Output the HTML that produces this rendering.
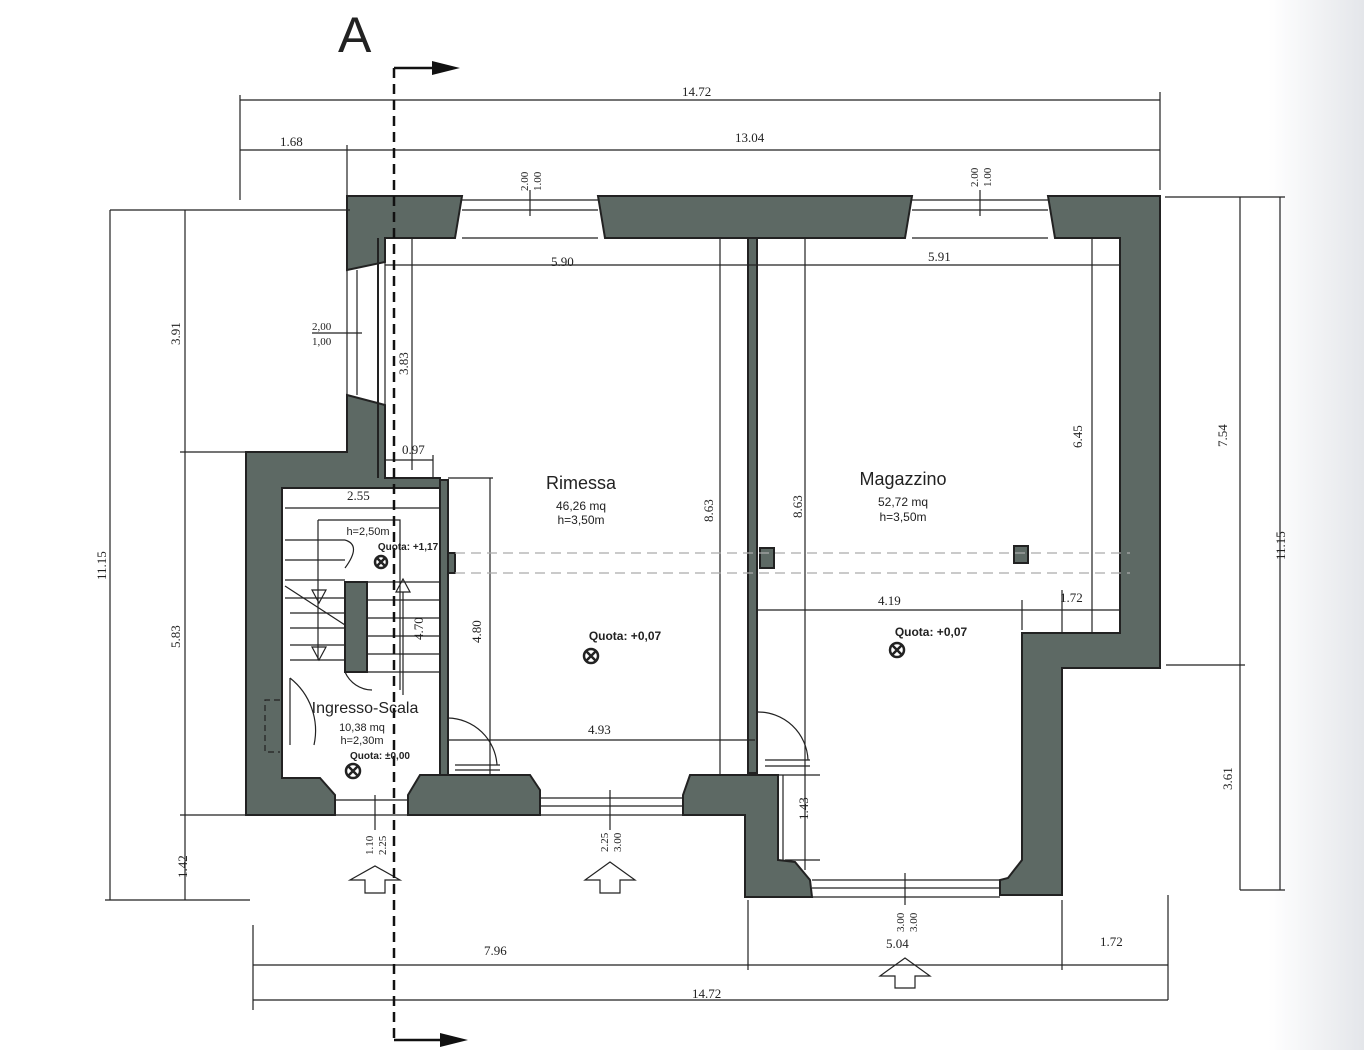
<!DOCTYPE html>
<html><head><meta charset="utf-8"><style>
html,body{margin:0;padding:0;background:#fff;}
svg{display:block}
text{font-family:"Liberation Serif",serif;fill:#222}
.s{font-family:"Liberation Sans",sans-serif}
</style></head><body>
<svg width="1364" height="1050" viewBox="0 0 1364 1050" xmlns="http://www.w3.org/2000/svg">
<defs>
<linearGradient id="pg" x1="0" x2="1">
<stop offset="0" stop-color="#fff"/><stop offset="0.93" stop-color="#fff"/><stop offset="1" stop-color="#e4e6ea"/>
</linearGradient>
</defs>
<rect width="1364" height="1050" fill="url(#pg)"/>

<g fill="#5d6964" stroke="#222" stroke-width="2">
<path d="M347 196 L462 196 L455 238 L385 238 L385 262 L347 270 Z"/>
<path d="M598 196 L912 196 L905 238 L605 238 Z"/>
<path d="M1048 196 L1160 196 L1160 668 L1062 668 L1062 895 L1000 895 L1000 880 L1008 878 L1022 860 L1022 633 L1120 633 L1120 238 L1055 238 Z"/>
<path d="M347 395 L385 405 L385 478 L440 478 L440 488 L282 488 L282 778 L320 778 L335 795 L335 815 L246 815 L246 452 L347 452 Z"/>
<path d="M345 582 L367 582 L367 672 L345 672 Z"/>
<path d="M420 775 L530 775 L540 790 L540 815 L408 815 L408 795 Z"/>
<path d="M690 775 L778 775 L778 860 L795 862 L810 880 L812 897 L745 897 L745 815 L683 815 L683 795 Z"/>
<rect x="445" y="553" width="10" height="20"/>
<rect x="760" y="548" width="14" height="20"/>
<rect x="1014" y="546" width="14" height="17"/>
<rect x="440" y="480" width="8" height="295"/>
<rect x="748" y="238" width="9" height="535"/>
</g>

<g stroke="#222" fill="none" stroke-width="1.2">
<path d="M462 200 L598 200 M462 210 L598 210 M462 238 L598 238"/>
<path d="M912 200 L1048 200 M912 210 L1048 210 M912 238 L1048 238"/>
<path d="M347 270 L347 395 M357 270 L357 395 M385 262 L385 405"/>
<path d="M540 798 L683 798 M540 806 L683 806 M540 815 L683 815"/>
<path d="M812 880 L1000 880 M812 888 L1000 888 M812 897 L1000 897"/>
<path d="M335 800 L408 800 M335 815 L408 815"/>
<path d="M378 238 L378 478" stroke-width="2"/>
<path d="M240 100 L1160 100 M240 95 L240 200 M1160 92 L1160 190"/>
<path d="M240 150 L1160 150 M347 145 L347 200"/>
<path d="M110 210 L350 210 M110 210 L110 900 M105 900 L250 900"/>
<path d="M185 210 L185 900 M180 452 L246 452 M180 815 L246 815"/>
<path d="M1165 197 L1285 197 M1280 197 L1280 890 M1240 890 L1285 890 M1240 197 L1240 890 M1166 665 L1245 665"/>
<path d="M253 965 L1168 965 M253 925 L253 1010 M748 900 L748 970 M1062 900 L1062 970 M1168 895 L1168 1000"/>
<path d="M253 1000 L1168 1000"/>
<path d="M385 265 L1120 265"/>
<path d="M412 238 L412 470"/>
<path d="M720 238 L720 775 M805 238 L805 870"/>
<path d="M1092 238 L1092 633"/>
<path d="M758 610 L1120 610 M1022 600 L1022 630 M1062 590 L1062 633"/>
<path d="M385 460 L433 460 M433 455 L433 478"/>
<path d="M490 478 L490 775 M448 478 L493 478"/>
<path d="M285 508 L440 508"/>
<path d="M448 740 L755 740"/>
<path d="M785 860 L820 860 M783 775 L783 860 M770 775 L820 775"/>
<path d="M530 190 L530 216 M980 190 L980 216 M312 333 L362 333 M610 790 L610 830 M905 873 L905 905 M375 795 L375 830"/>
<path d="M318 520 L400 520 L400 690" />
<path d="M318 520 L318 660 M285 540 L345 540 M285 560 L345 560 M285 580 L345 580 M285 598 L345 598 M290 613 L345 613 M290 628 L345 628 M290 645 L345 645 M290 660 L345 660"/>
<path d="M285 586 L345 625"/>
<path d="M367 582 L440 582 M367 600 L440 600 M367 618 L440 618 M367 636 L440 636 M367 654 L440 654 M367 672 L440 672"/>
<path d="M312 590 L326 590 L319 603 Z M312 647 L326 647 L319 660 Z M396 592 L410 592 L403 579 Z"/>
<path d="M403 592 L403 695"/>
<path d="M345 540 Q362 545 345 568"/>
<path d="M448 718 A50 50 0 0 1 497 765 M455 765 L500 765 M455 770 L500 770"/>
<path d="M757 712 A50 50 0 0 1 808 760 M765 760 L810 760 M765 766 L810 766"/>
<path d="M290 678 L290 745 M290 678 A67 67 0 0 1 314 745 M345 672 A30 30 0 0 0 372 690"/>
<path d="M280 700 L265 700 L265 752 L280 752" stroke-dasharray="6 4"/>
<path d="M455 553 L1130 553 M455 573 L1130 573" stroke="#aaa" stroke-dasharray="10 6"/>
<path d="M365 893 L365 880 L350 880 L375 866 L400 880 L385 880 L385 893 Z"/>
<path d="M600 893 L600 880 L585 880 L610 862 L635 880 L620 880 L620 893 Z"/>
<path d="M895 988 L895 976 L880 976 L905 958 L930 976 L915 976 L915 988 Z"/>
</g>
<path d="M394 68 L394 1040" stroke="#111" stroke-width="2.5" stroke-dasharray="10 6" fill="none"/>
<path d="M394 68 L440 68 M394 1040 L440 1040" stroke="#111" stroke-width="2.5"/>
<path d="M460 68 L432 61 L432 75 Z M468 1040 L440 1033 L440 1047 Z" fill="#111"/>
<text x="338" y="52" class="s" font-size="50">A</text>

<g stroke="#222" stroke-width="2.5" fill="none">
<circle cx="591" cy="656" r="7"/><circle cx="897" cy="650" r="7"/><circle cx="353" cy="771" r="7"/><circle cx="381" cy="562" r="6"/>
<path d="M586 651 L596 661 M596 651 L586 661 M892 645 L902 655 M902 645 L892 655 M348 766 L358 776 M358 766 L348 776 M377 558 L385 566 M385 558 L377 566"/>
</g>

<g font-size="13">
<text x="682" y="96">14.72</text>
<text x="280" y="146">1.68</text>
<text x="735" y="142">13.04</text>
<text x="551" y="266">5.90</text>
<text x="928" y="261">5.91</text>
<text x="402" y="454">0.97</text>
<text x="347" y="500">2.55</text>
<text x="588" y="734">4.93</text>
<text x="878" y="605">4.19</text>
<text x="1060" y="602">1.72</text>
<text x="484" y="955">7.96</text>
<text x="886" y="948">5.04</text>
<text x="1100" y="946">1.72</text>
<text x="692" y="998">14.72</text>
<text x="312" y="330" font-size="11">2,00</text>
<text x="312" y="345" font-size="11">1,00</text>
<text transform="translate(180 345) rotate(-90)">3.91</text>
<text transform="translate(180 648) rotate(-90)">5.83</text>
<text transform="translate(106 580) rotate(-90)">11.15</text>
<text transform="translate(187 878) rotate(-90)">1.42</text>
<text transform="translate(408 375) rotate(-90)">3.83</text>
<text transform="translate(481 643) rotate(-90)">4.80</text>
<text transform="translate(423 640) rotate(-90)">4.70</text>
<text transform="translate(713 522) rotate(-90)">8.63</text>
<text transform="translate(802 518) rotate(-90)">8.63</text>
<text transform="translate(1082 448) rotate(-90)">6.45</text>
<text transform="translate(1227 447) rotate(-90)">7.54</text>
<text transform="translate(1285 560) rotate(-90)">11.15</text>
<text transform="translate(1232 790) rotate(-90)">3.61</text>
<text transform="translate(808 820) rotate(-90)">1.43</text>
<text transform="translate(528 191) rotate(-90)" font-size="11">2.00</text>
<text transform="translate(541 191) rotate(-90)" font-size="11">1.00</text>
<text transform="translate(978 187) rotate(-90)" font-size="11">2.00</text>
<text transform="translate(991 187) rotate(-90)" font-size="11">1.00</text>
<text transform="translate(373 855) rotate(-90)" font-size="11">1.10</text>
<text transform="translate(386 855) rotate(-90)" font-size="11">2.25</text>
<text transform="translate(608 852) rotate(-90)" font-size="11">2.25</text>
<text transform="translate(621 852) rotate(-90)" font-size="11">3.00</text>
<text transform="translate(904 932) rotate(-90)" font-size="11">3.00</text>
<text transform="translate(917 932) rotate(-90)" font-size="11">3.00</text>
</g>
<g class="s" text-anchor="middle">
<text x="581" y="489" font-size="18" class="s">Rimessa</text>
<text x="581" y="510" font-size="12" class="s">46,26 mq</text>
<text x="581" y="524" font-size="12" class="s">h=3,50m</text>
<text x="903" y="485" font-size="18" class="s">Magazzino</text>
<text x="903" y="506" font-size="12" class="s">52,72 mq</text>
<text x="903" y="521" font-size="12" class="s">h=3,50m</text>
<text x="365" y="713" font-size="16" class="s">Ingresso-Scala</text>
<text x="362" y="731" font-size="11" class="s">10,38 mq</text>
<text x="362" y="744" font-size="11" class="s">h=2,30m</text>
<text x="380" y="759" font-size="10" class="s" font-weight="bold">Quota: ±0,00</text>
<text x="368" y="535" font-size="11" class="s">h=2,50m</text>
<text x="408" y="550" font-size="10" class="s" font-weight="bold">Quota: +1,17</text>
<text x="625" y="640" font-size="12" class="s" font-weight="bold">Quota: +0,07</text>
<text x="931" y="636" font-size="12" class="s" font-weight="bold">Quota: +0,07</text>
</g>
</svg>
</body></html>
